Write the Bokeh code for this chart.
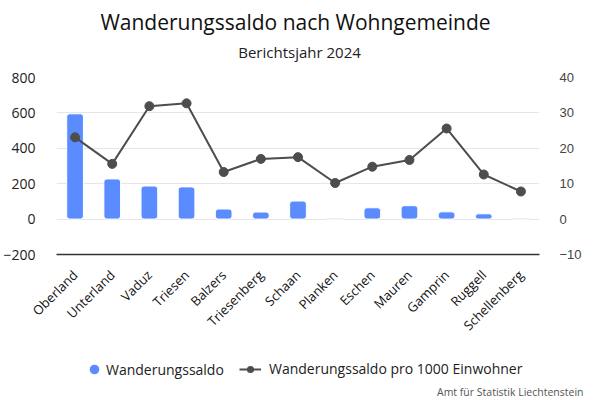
from math import pi
from bokeh.plotting import figure
from bokeh.layouts import column
from bokeh.models import (ColumnDataSource, FactorRange, Range1d, LinearAxis, FixedTicker,
                          Legend, LegendItem, Label, Title)
from bokeh.embed import file_html
from bokeh.resources import INLINE

gemeinden = ["Oberland", "Unterland", "Vaduz", "Triesen", "Balzers", "Triesenberg", "Schaan",
             "Planken", "Eschen", "Mauren", "Gamprin", "Ruggell", "Schellenberg"]
saldo = [595, 227, 187, 182, 57, 40, 102, 5, 64, 76, 41, 30, 5]
saldo_pro_1000 = [23.1, 15.6, 31.9, 32.7, 13.3, 17.0, 17.5, 10.2, 14.8, 16.7, 25.6, 12.6, 7.8]
left_ticks = [-200, 0, 200, 400, 600, 800]
right_ticks = [-10, 0, 10, 20, 30, 40]

BAR = "#5b8cff"
LINE = "#4d4d4d"
FONT = "Open Sans"
W = 584
HEAD_H, MAIN_H, FOOT_H = 67, 287, 46
AX_T, AX_B = 10, 100


def blank(h):
    f = figure(width=W, height=h, x_range=Range1d(0, W), y_range=Range1d(0, h),
               x_axis_location=None, y_axis_location=None, output_backend="svg",
               toolbar_location=None, min_border_top=0, min_border_bottom=0,
               min_border_left=49, min_border_right=35)
    f.outline_line_color = None
    f.grid.grid_line_color = None
    return f


# header (coordinates relative to the aligned plot frame)
head = blank(HEAD_H)
head.add_layout(Label(x=239, y=46, x_units="screen", y_units="screen",
                      text="Wanderungssaldo nach Wohngemeinde", text_font=FONT,
                      text_font_size="21px", text_color="#111111",
                      text_align="center", text_baseline="middle"))
head.add_layout(Label(x=243, y=16, x_units="screen", y_units="screen",
                      text="Berichtsjahr 2024", text_font=FONT,
                      text_font_size="15px", text_color="#222222",
                      text_align="center", text_baseline="middle"))

# main chart
src = ColumnDataSource(dict(g=gemeinden, s=saldo, r=saldo_pro_1000))

p = figure(width=W, height=MAIN_H, x_range=FactorRange(factors=gemeinden, range_padding=0),
           y_range=Range1d(-200, 800), output_backend="svg", toolbar_location=None,
           min_border_left=49, min_border_right=35, min_border_top=AX_T, min_border_bottom=AX_B)
p.extra_y_ranges = {"rate": Range1d(-10, 40)}
p.outline_line_color = None

p.vbar(x="g", top="s", bottom=0, width=0.45, source=src, fill_color=BAR,
       line_color="white", line_width=1, border_radius=3)
p.line(x="g", y="r", source=src, y_range_name="rate", line_color=LINE, line_width=2)
p.scatter(x="g", y="r", source=src, y_range_name="rate", size=9,
          fill_color=LINE, line_color=LINE)

p.yaxis.ticker = FixedTicker(ticks=left_ticks)
p.yaxis.axis_line_color = None
p.yaxis.major_tick_line_color = None
p.yaxis.minor_tick_line_color = None
p.yaxis.major_label_text_font = FONT
p.yaxis.major_label_text_font_size = "14px"
p.yaxis.major_label_text_color = "#222222"
p.yaxis.major_label_standoff = 15

ax2 = LinearAxis(y_range_name="rate", ticker=FixedTicker(ticks=right_ticks))
ax2.axis_line_color = None
ax2.major_tick_line_color = None
ax2.minor_tick_line_color = None
ax2.major_label_text_font = "Liberation Sans"
ax2.major_label_text_font_size = "13px"
ax2.major_label_text_color = "#444444"
ax2.major_label_standoff = 14
p.add_layout(ax2, "right")

p.xaxis.axis_label = None
p.xaxis.axis_line_color = "#333333"
p.xaxis.axis_line_width = 1.5
p.xaxis.major_tick_line_color = None
p.xaxis.minor_tick_line_color = None
p.xaxis.major_label_orientation = pi / 4
p.xaxis.major_label_text_font = FONT
p.xaxis.major_label_text_font_size = "13px"
p.xaxis.major_label_text_color = "#111111"
p.xaxis.major_label_standoff = 12

p.xgrid.grid_line_color = None
p.ygrid.ticker = FixedTicker(ticks=left_ticks)
p.ygrid.grid_line_color = "#e6e6e6"

# footer: legend + credit
foot = blank(FOOT_H)
foot.min_border_bottom = 18
key_src = ColumnDataSource(dict(x=[0], y=[0]))
bar_key = foot.scatter(x="x", y="y", size=0, source=key_src, fill_color=BAR, line_color=None)
fl = foot.line(x="x", y="y", source=key_src, line_color=LINE, line_width=2)
fd = foot.scatter(x="x", y="y", size=0, source=key_src, fill_color=LINE, line_color=None)

leg1 = Legend(items=[LegendItem(label="Wanderungssaldo", renderers=[bar_key])],
              location=(26, 1), border_line_color=None, background_fill_alpha=0,
              label_text_font=FONT, label_text_font_size="14px", label_text_color="#222222",
              glyph_width=24, glyph_height=24, label_height=24, padding=0, margin=0,
              label_standoff=0)
leg2 = Legend(items=[LegendItem(label="Wanderungssaldo pro 1000 Einwohner", renderers=[fl, fd])],
              location=(183, 4), border_line_color=None, background_fill_alpha=0,
              label_text_font=FONT, label_text_font_size="14px", label_text_color="#222222",
              glyph_width=22, glyph_height=18, label_height=18, padding=0, margin=0,
              label_standoff=8)
foot.add_layout(leg1, "center")
foot.add_layout(leg2, "center")
foot.add_layout(Title(text="Amt für Statistik Liechtenstein", align="right", offset=-44,
                      standoff=0, text_font=FONT, text_font_size="10.5px",
                      text_font_style="normal", text_color="#555555"), "below")

page = column(head, p, foot, spacing=0)
open("out.html", "w").write(file_html(page, INLINE))
